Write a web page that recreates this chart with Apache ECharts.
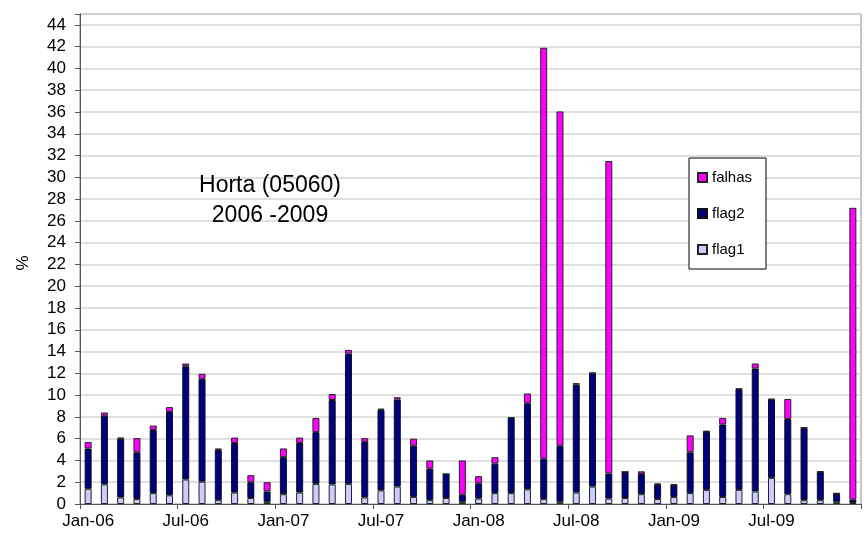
<!DOCTYPE html>
<html>
<head>
<meta charset="utf-8">
<script src="https://cdn.jsdelivr.net/npm/echarts@6/dist/echarts.min.js"></script>
<style>
  html, body { margin: 0; padding: 0; background: #fff; }
  #chart { width: 864px; height: 546px; }
</style>
</head>
<body>
<div id="chart"></div>
<script>
// months Jan-06 .. Dec-09
var monthNames = ['Jan', 'Feb', 'Mar', 'Apr', 'May', 'Jun', 'Jul', 'Aug', 'Sep', 'Oct', 'Nov', 'Dec']
var years = ['06', '07', '08', '09']
var months = []
for (var y = 0; y < years.length; y++) {
  for (var m = 0; m < 12; m++) {
    months.push(monthNames[m] + '-' + years[y])
  }
}

var flag1 = [1.4, 1.8, 0.6, 0.45, 1.0, 0.8, 2.25, 2.05, 0.35, 1.05, 0.55, 0.2,
             0.9, 1.05, 1.85, 1.8, 1.85, 0.6, 1.25, 1.6, 0.65, 0.35, 0.55, 0.2,
             0.5, 1.0, 1.0, 1.35, 0.45, 0.2, 1.05, 1.6, 0.5, 0.55, 0.9, 0.45,
             0.65, 1.0, 1.3, 0.65, 1.3, 1.15, 2.4, 0.9, 0.35, 0.35, 0.2, 0.1]
var flag2 = [3.7, 6.3, 5.4, 4.3, 5.8, 7.65, 10.4, 9.45, 4.6, 4.55, 1.45, 0.95,
             3.4, 4.55, 4.75, 7.75, 11.95, 5.1, 7.4, 8.0, 4.7, 2.9, 2.2, 0.65,
             1.4, 2.7, 6.9, 7.9, 3.7, 5.15, 9.9, 10.4, 2.3, 2.4, 1.85, 1.3,
             1.1, 3.75, 5.35, 6.65, 9.25, 11.3, 7.2, 6.9, 6.65, 2.6, 0.75, 0.3]
var falhas = [0.6, 0.3, 0.1, 1.3, 0.4, 0.45, 0.25, 0.45, 0.15, 0.5, 0.65, 0.85,
              0.8, 0.5, 1.3, 0.55, 0.35, 0.35, 0.1, 0.2, 0.65, 0.75, 0, 3.15,
              0.65, 0.6, 0.05, 0.9, 37.75, 30.7, 0.15, 0.07, 28.7, 0, 0.25, 0.15,
              0.05, 1.55, 0.05, 0.6, 0.05, 0.45, 0.05, 1.85, 0.05, 0.05, 0.05, 26.8]

var yTicks = { min: 0, max: 45, step: 2, lastLabel: 44 }
var chartTitle = 'Horta (05060)\n2006 -2009'

var chart = echarts.init(document.getElementById('chart'))
var txt = { fontFamily: 'Liberation Sans', fontSize: 17, color: '#000' }

var option = {
  animation: false,
  backgroundColor: '#fff',
  textStyle: { fontFamily: 'Liberation Sans' },
  title: {
    text: chartTitle,
    left: 265,
    top: 166,
    textAlign: 'center',
    textStyle: { fontFamily: 'Liberation Sans', fontSize: 23, fontWeight: 'normal', color: '#000', lineHeight: 30 }
  },
  legend: {
    orient: 'vertical',
    left: 689,
    top: 158,
    width: 85,
    padding: [12, 14, 12, 8],
    itemGap: 21,
    itemWidth: 9,
    itemHeight: 9,
    borderColor: '#000',
    borderWidth: 1,
    backgroundColor: '#fff',
    icon: 'rect',
    textStyle: { fontFamily: 'Liberation Sans', fontSize: 15, color: '#000' },
    data: ['falhas', 'flag2', 'flag1']
  },
  grid: {
    left: 80,
    right: 3,
    top: 14,
    bottom: 42,
    show: true,
    borderColor: '#888',
    borderWidth: 1
  },
  xAxis: {
    type: 'category',
    data: months,
    boundaryGap: true,
    axisLine: { lineStyle: { color: '#555', width: 1 } },
    axisTick: { show: true, interval: 5, length: 5, inside: false, lineStyle: { color: '#555' } },
    axisLabel: Object.assign({ interval: 5, margin: 9 }, txt),
    splitLine: { show: false }
  },
  yAxis: {
    type: 'value',
    min: yTicks.min,
    max: yTicks.max,
    interval: yTicks.step,
    name: '%',
    nameLocation: 'middle',
    nameGap: 48,
    nameRotate: 90,
    nameTextStyle: Object.assign({ padding: [0, 0, 0, -8] }, txt),
    axisLine: { show: true, lineStyle: { color: '#555', width: 1 } },
    axisTick: { show: true, length: 5, lineStyle: { color: '#555' } },
    axisLabel: Object.assign({
      margin: 14,
      formatter: function (v) { return v > yTicks.lastLabel ? '' : v }
    }, txt),
    splitLine: { show: true, lineStyle: { color: '#d4d4d4', width: 1.5 } }
  },
  series: [
    {
      name: 'flag1',
      type: 'bar',
      stack: 'total',
      barWidth: 7,
      data: flag1,
      itemStyle: { color: '#ccccff', borderColor: '#222', borderWidth: 1 }
    },
    {
      name: 'flag2',
      type: 'bar',
      stack: 'total',
      barWidth: 7,
      data: flag2,
      itemStyle: { color: '#000080', borderColor: '#111', borderWidth: 1 }
    },
    {
      name: 'falhas',
      type: 'bar',
      stack: 'total',
      barWidth: 7,
      data: falhas,
      itemStyle: { color: '#ff00ff', borderColor: '#222', borderWidth: 1 }
    }
  ]
}
chart.setOption(option)
</script>
</body>
</html>
